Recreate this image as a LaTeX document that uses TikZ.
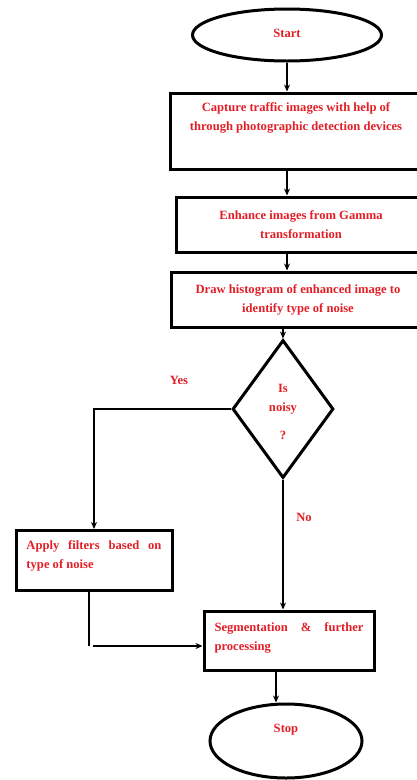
\documentclass[tikz,border=0pt]{standalone}
\usepackage{fontspec}
\setmainfont{Liberation Serif}
\usetikzlibrary{shapes.geometric,arrows.meta}
\definecolor{txtred}{RGB}{226,30,38}
\begin{document}
\begin{tikzpicture}[x=1pt,y=-1pt,
  every node/.style={font=\bfseries\fontsize{12.6}{19}\selectfont, text=txtred},
  boxst/.style={draw=black, line width=3pt, rectangle, inner sep=0pt},
  ovalst/.style={draw=black, line width=3pt, ellipse, inner sep=0pt},
  decst/.style={draw=black, line width=3pt, diamond, inner sep=0pt, align=center},
  conn/.style={draw=black, line width=1.1pt, -{Stealth[length=7pt,width=6pt]}},
  plainln/.style={draw=black, line width=1.1pt}
]
\useasboundingbox (0,0) rectangle (417,780);
\clip (0,0) rectangle (417,780);
% shapes
\node[ovalst, minimum width=189pt, minimum height=52pt] (start) at (287,35) {};
\node (tstart) at (287,33) {Start};
\node[boxst, minimum width=250pt, minimum height=76pt] (b1) at (295,131) {};
\node[align=center] (t1) at (296,118) {Capture traffic images with help of\\through photographic detection devices};
\node[boxst, minimum width=250pt, minimum height=55pt, align=center] (b2) at (301,224.5) {Enhance images from Gamma\\transformation};
\node[boxst, minimum width=254pt, minimum height=55pt, align=center] (b3) at (298,299.5) {Draw histogram of enhanced image to\\identify type of noise};
\node[decst, minimum width=101pt, minimum height=138pt] (dec) at (283,409) {};
\node[align=center] (tdec) at (283,412) {Is\\noisy\\[9pt]?};
\node[boxst, minimum width=156pt, minimum height=60pt] (b4) at (94,560.5) {};
\node[text width=135pt, align=justify, inner sep=0pt] (t4) at (94,556) {Apply filters based on type of noise};
\node[boxst, minimum width=170pt, minimum height=59pt] (b5) at (289,640.5) {};
\node[text width=149pt, align=justify, inner sep=0pt] (t5) at (289,638) {Segmentation \& further processing};
\node[ovalst, minimum width=152pt, minimum height=74pt] (stop) at (286,741) {};
\node (tstop) at (286,730) {Stop};
\node (yes) at (179,380) {Yes};
\node (no) at (304,517) {No};
% connectors
\coordinate (c1) at (287,0);
\draw[conn] (c1 |- start.south) -- (c1 |- b1.north);
\draw[conn] (c1 |- b1.south) -- (c1 |- b2.north);
\draw[conn] (c1 |- b2.south) -- (c1 |- b3.north);
\draw[conn] (dec.north |- b3.south) -- (dec.north);
\draw[conn] (dec.west) -| (b4.north);
\draw[conn] (dec.south) -- (dec.south |- b5.north);
\coordinate (c2) at (89,646);
\draw[plainln] (c2 |- b4.south) -- (c2);
\draw[conn] (c2) ++(4,0) -- ([yshift=-5.5pt]b5.west);
\coordinate (c3) at (276,0);
\draw[conn] (c3 |- b5.south) -- (c3 |- stop.north);
\end{tikzpicture}
\end{document}
